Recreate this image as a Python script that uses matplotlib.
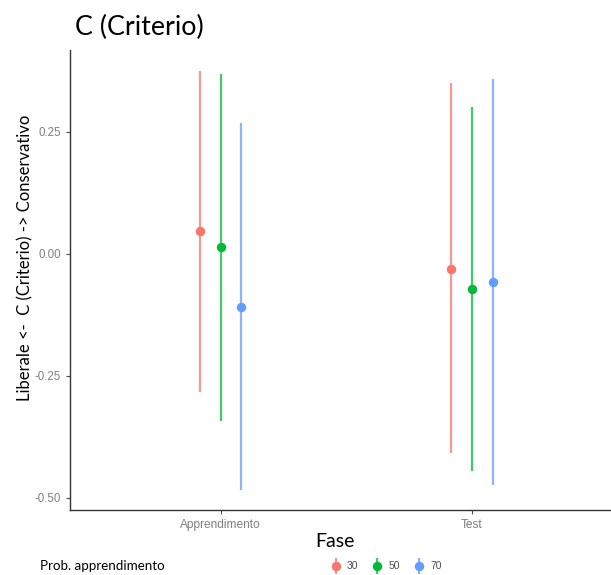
import matplotlib
matplotlib.use("Agg")
import matplotlib.pyplot as plt
from matplotlib.lines import Line2D
from matplotlib.legend_handler import HandlerTuple
import numpy as np

# estimated values
phases = ["Apprendimento", "Test"]
groups = ["30", "50", "70"]
colors = ["#F8766D", "#00BA38", "#619CFF"]
means = {
    "30": [0.046, -0.030],
    "50": [0.014, -0.071],
    "70": [-0.108, -0.057],
}
lower = {
    "30": [-0.284, -0.409],
    "50": [-0.342, -0.444],
    "70": [-0.484, -0.474],
}
upper = {
    "30": [0.376, 0.350],
    "50": [0.369, 0.302],
    "70": [0.268, 0.359],
}
offsets = [-0.083, 0.0, 0.083]

label_font = ["Lato", "DejaVu Sans"]
tick_font = ["Liberation Sans", "DejaVu Sans"]

fig = plt.figure(figsize=(6.11, 5.75), dpi=100)
ax = fig.add_axes([0.1146, 0.113, 0.8854, 0.8])

x = np.arange(1, len(phases) + 1)
handles = []
for g, c, off in zip(groups, colors, offsets):
    m = np.array(means[g])
    lo = np.array(lower[g])
    hi = np.array(upper[g])
    ax.vlines(x + off, lo, hi, color=c, lw=1.6, alpha=0.75)
    ax.plot(x + off, m, "o", color=c, ms=5.8)
    bar = Line2D([], [], marker="|", ls="none", color=c, ms=11, mew=1.6, alpha=0.75)
    dot = Line2D([], [], marker="o", ls="none", color=c, ms=5.8)
    handles.append((bar, dot))

ax.set_xlim(0.4, 2.555)
ax.set_ylim(-0.525, 0.418)
ax.set_xticks(x)
ax.set_xticklabels(phases)
ax.set_yticks([-0.50, -0.25, 0.0, 0.25])
ax.set_yticklabels(["-0.50", "-0.25", "0.00", "0.25"])
ax.tick_params(colors="#4d4d4d", labelsize=8.3, length=3, width=0.8)
ax.tick_params(axis="both", labelcolor="#7f7f7f")
ax.tick_params(axis="x", labelsize=8.6)
for lab in ax.get_xticklabels() + ax.get_yticklabels():
    lab.set_family(tick_font)
for s in ["top", "right"]:
    ax.spines[s].set_visible(False)
for s in ["left", "bottom"]:
    ax.spines[s].set_linewidth(1.0)
    ax.spines[s].set_color("#333333")

ax.set_xlabel("Fase", fontsize=14, family=label_font)
ax.xaxis.set_label_coords(0.49, -0.05)
ax.set_ylabel("Liberale <-  C (Criterio) -> Conservativo", fontsize=12,
              family=label_font)
ax.yaxis.set_label_coords(-0.068, 0.548)
fig.text(0.122, 0.952, "C (Criterio)", fontsize=19.4, family=label_font,
         va="center", ha="left")

fig.text(0.066, 0.0157, "Prob. apprendimento", fontsize=9.6, family=label_font,
         va="center", ha="left")
leg = fig.legend(handles, groups, handler_map={tuple: HandlerTuple(ndivide=1)},
                 loc="lower left", bbox_to_anchor=(0.524, -0.01), ncol=3,
                 frameon=False, handlelength=1.2, handletextpad=0.45,
                 columnspacing=1.25, prop={"family": tick_font, "size": 7.5})
for t in leg.get_texts():
    t.set_color("#4d4d4d")

fig.savefig("out.png", dpi=100)
